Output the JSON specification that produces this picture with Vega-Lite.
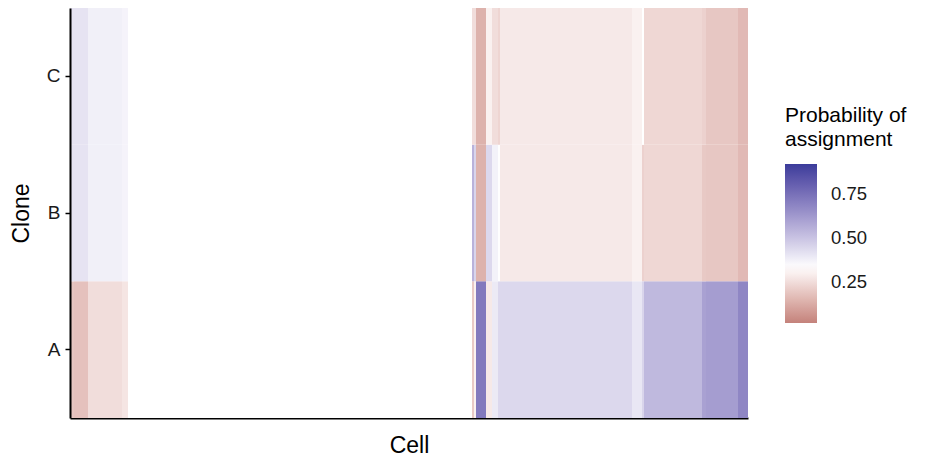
{
  "$schema": "https://vega.github.io/schema/vega-lite/v6.json",
  "width": 678,
  "height": 410,
  "autosize": "none",
  "padding": {"left": 70, "top": 8, "right": 184, "bottom": 46},
  "background": "white",
  "config": {
    "view": {"stroke": null},
    "font": "Liberation Sans"
  },
  "data": {
    "values": [
      {"from": 0, "to": 2, "clone": "A", "p": 0.19},
      {"from": 0, "to": 2, "clone": "B", "p": 0.41},
      {"from": 0, "to": 2, "clone": "C", "p": 0.41},
      {"from": 2, "to": 9, "clone": "A", "p": 0.18},
      {"from": 2, "to": 9, "clone": "B", "p": 0.41},
      {"from": 2, "to": 9, "clone": "C", "p": 0.41},
      {"from": 9, "to": 26, "clone": "A", "p": 0.25},
      {"from": 9, "to": 26, "clone": "B", "p": 0.375},
      {"from": 9, "to": 26, "clone": "C", "p": 0.375},
      {"from": 26, "to": 29, "clone": "A", "p": 0.27},
      {"from": 26, "to": 29, "clone": "B", "p": 0.365},
      {"from": 26, "to": 29, "clone": "C", "p": 0.365},
      {"from": 29, "to": 201, "clone": "A", "p": 0.3333},
      {"from": 29, "to": 201, "clone": "B", "p": 0.3333},
      {"from": 29, "to": 201, "clone": "C", "p": 0.3333},
      {"from": 201, "to": 202, "clone": "A", "p": 0.2},
      {"from": 201, "to": 202, "clone": "B", "p": 0.55},
      {"from": 201, "to": 202, "clone": "C", "p": 0.25},
      {"from": 202, "to": 203, "clone": "A", "p": 0.3},
      {"from": 202, "to": 203, "clone": "B", "p": 0.45},
      {"from": 202, "to": 203, "clone": "C", "p": 0.25},
      {"from": 203, "to": 208, "clone": "A", "p": 0.72},
      {"from": 203, "to": 208, "clone": "B", "p": 0.14},
      {"from": 203, "to": 208, "clone": "C", "p": 0.14},
      {"from": 208, "to": 211, "clone": "A", "p": 0.28},
      {"from": 208, "to": 211, "clone": "B", "p": 0.44},
      {"from": 208, "to": 211, "clone": "C", "p": 0.3},
      {"from": 211, "to": 214, "clone": "A", "p": 0.39},
      {"from": 211, "to": 214, "clone": "B", "p": 0.37},
      {"from": 211, "to": 214, "clone": "C", "p": 0.25},
      {"from": 214, "to": 215, "clone": "A", "p": 0.44},
      {"from": 214, "to": 215, "clone": "B", "p": 0.33},
      {"from": 214, "to": 215, "clone": "C", "p": 0.23},
      {"from": 215, "to": 281, "clone": "A", "p": 0.44},
      {"from": 215, "to": 281, "clone": "B", "p": 0.28},
      {"from": 215, "to": 281, "clone": "C", "p": 0.28},
      {"from": 281, "to": 286, "clone": "A", "p": 0.4},
      {"from": 281, "to": 286, "clone": "B", "p": 0.3},
      {"from": 281, "to": 286, "clone": "C", "p": 0.3},
      {"from": 286, "to": 287, "clone": "A", "p": 0.45},
      {"from": 286, "to": 287, "clone": "B", "p": 0.22},
      {"from": 286, "to": 287, "clone": "C", "p": 0.3333},
      {"from": 287, "to": 316, "clone": "A", "p": 0.53},
      {"from": 287, "to": 316, "clone": "B", "p": 0.235},
      {"from": 287, "to": 316, "clone": "C", "p": 0.235},
      {"from": 316, "to": 318, "clone": "A", "p": 0.6},
      {"from": 316, "to": 318, "clone": "B", "p": 0.2},
      {"from": 316, "to": 318, "clone": "C", "p": 0.22},
      {"from": 318, "to": 334, "clone": "A", "p": 0.61},
      {"from": 318, "to": 334, "clone": "B", "p": 0.195},
      {"from": 318, "to": 334, "clone": "C", "p": 0.195},
      {"from": 334, "to": 339, "clone": "A", "p": 0.68},
      {"from": 334, "to": 339, "clone": "B", "p": 0.16},
      {"from": 334, "to": 339, "clone": "C", "p": 0.16}
    ]
  },
  "mark": {"type": "rect", "strokeWidth": 0},
  "encoding": {
    "x": {
      "field": "from",
      "type": "quantitative",
      "scale": {"domain": [0, 339], "nice": false, "zero": false},
      "axis": {
        "title": "Cell",
        "titleFont": "Liberation Sans",
        "titleFontSize": 23,
        "titleFontWeight": "normal",
        "titleColor": "black",
        "titlePadding": 16,
        "labels": false,
        "ticks": false,
        "grid": false,
        "domainColor": "black",
        "domainWidth": 2
      }
    },
    "x2": {"field": "to"},
    "y": {
      "field": "clone",
      "type": "nominal",
      "scale": {"domain": ["C", "B", "A"], "paddingInner": 0, "paddingOuter": 0},
      "axis": {
        "title": "Clone",
        "titleFont": "Liberation Sans",
        "titleFontSize": 23,
        "titleFontWeight": "normal",
        "titleColor": "black",
        "titlePadding": 13,
        "labelFont": "Liberation Sans",
        "labelFontSize": 19,
        "labelColor": "#1a1a1a",
        "labelPadding": 5,
        "tickColor": "black",
        "tickWidth": 1.5,
        "tickSize": 5,
        "grid": false,
        "domainColor": "black",
        "domainWidth": 2
      }
    },
    "color": {
      "field": "p",
      "type": "quantitative",
      "scale": {
        "domain": [0.017, 0.3333, 0.92],
        "range": ["#c4827b", "#ffffff", "#3b3c9b"],
        "interpolate": "lab"
      },
      "legend": {
        "title": ["Probability of", "assignment"],
        "orient": "none",
        "legendX": 715,
        "legendY": 97,
        "titleFont": "Liberation Sans",
        "titleFontSize": 21,
        "titleFontWeight": "normal",
        "titleColor": "black",
        "titleLineHeight": 24,
        "titlePadding": 14,
        "gradientLength": 159,
        "gradientThickness": 32,
        "gradientStrokeWidth": 0,
        "values": [0.25, 0.5, 0.75],
        "format": ".2f",
        "labelFont": "Liberation Sans",
        "labelFontSize": 18.5,
        "labelColor": "#1a1a1a",
        "labelOffset": 14
      }
    }
  }
}
